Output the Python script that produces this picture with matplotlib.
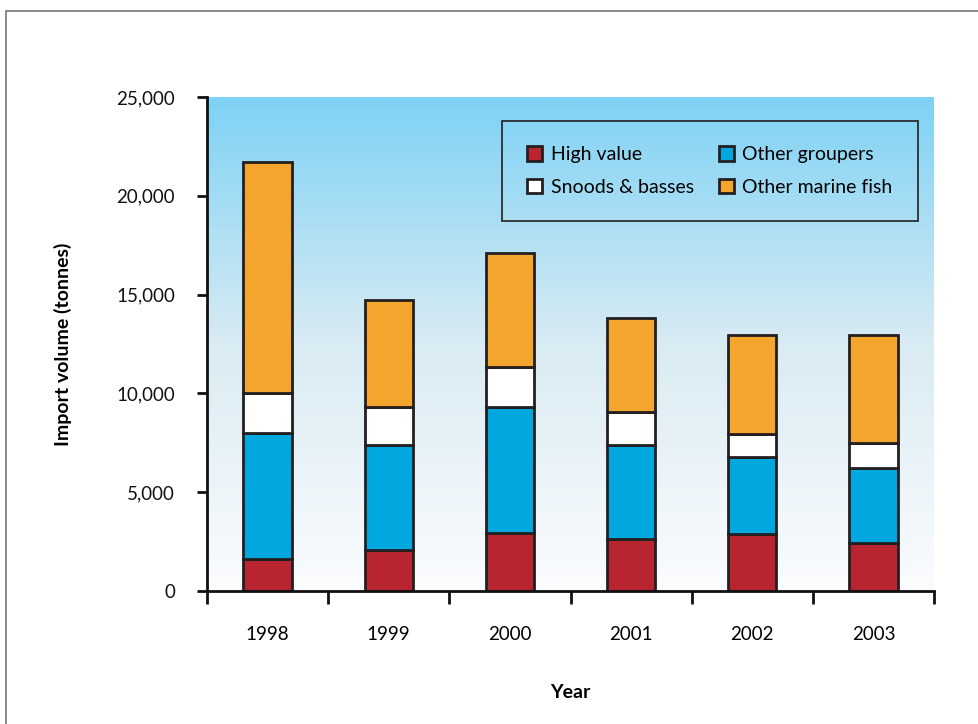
import matplotlib
matplotlib.use("Agg")
import matplotlib.pyplot as plt
import numpy as np
from matplotlib.patches import Patch
from matplotlib.lines import Line2D
from matplotlib.colors import LinearSegmentedColormap

# Import volumes (tonnes) by year and fish group
years = ["1998", "1999", "2000", "2001", "2002", "2003"]
high_value = [1600, 2100, 2950, 2650, 2900, 2450]
other_groupers = [6400, 5300, 6350, 4750, 3900, 3750]
snoods_basses = [2000, 1900, 2050, 1650, 1150, 1300]
other_marine = [11700, 5450, 5750, 4750, 5000, 5450]

series = [
    ("High value", high_value, "#b8242f"),
    ("Other groupers", other_groupers, "#00a8df"),
    ("Snoods & basses", snoods_basses, "#ffffff"),
    ("Other marine fish", other_marine, "#f3a52e"),
]

plt.rcParams["font.family"] = ["Lato", "DejaVu Sans"]
edge = "#231f20"

fig = plt.figure(figsize=(9.79, 7.24), dpi=100)
ax = fig.add_axes([207 / 979, 133 / 724, 727 / 979, 494 / 724])

# sky-blue to white backdrop
grad = np.linspace(1, 0, 256).reshape(-1, 1)
cmap = LinearSegmentedColormap.from_list("sky", ["#fbfcfe", "#d9ebf3", "#7ed2f5"])
ax.imshow(grad, cmap=cmap, aspect="auto", extent=[-0.5, 5.5, 0, 25000],
          origin="upper", zorder=0)

x = np.arange(len(years))
bottom = np.zeros(len(years))
handles = {}
for name, vals, col in series:
    ax.bar(x, vals, width=0.4, bottom=bottom, color=col, edgecolor=edge,
           linewidth=2, zorder=2)
    bottom += np.array(vals)
    handles[name] = Patch(facecolor=col, edgecolor=edge, linewidth=2)

ax.set_xlim(-0.5, 5.5)
ax.set_ylim(0, 25000)

for s in ["top", "right"]:
    ax.spines[s].set_visible(False)
for s in ["left", "bottom"]:
    ax.spines[s].set_linewidth(2)
    ax.spines[s].set_color("#111111")
    ax.spines[s].set_zorder(3)

ax.set_yticks(np.arange(0, 25001, 5000))
ax.set_yticklabels([f"{v:,}" for v in range(0, 25001, 5000)])
ax.tick_params(axis="y", direction="out", length=7, width=2, labelsize=13.5,
               pad=16, colors="#111111")

# ticks on category boundaries, labels at bar centres
ax.set_xticks(np.arange(-0.5, 6, 1.0))
ax.set_xticks(x, minor=True)
ax.set_xticklabels([])
ax.set_xticklabels(years, minor=True)
ax.tick_params(axis="x", which="major", direction="out", length=9, width=2,
               colors="#111111")
ax.tick_params(axis="x", which="minor", length=0, labelsize=13.5, pad=25)

ax.set_ylabel("Import volume (tonnes)", fontsize=14, fontweight="bold",
              labelpad=32)
ax.set_xlabel("Year", fontsize=14, fontweight="bold", labelpad=30)

order = ["High value", "Snoods & basses", "Other groupers", "Other marine fish"]
leg = ax.legend([handles[n] for n in order], order, ncol=2, loc="upper right",
                bbox_to_anchor=(0.978, 0.9514), frameon=True, fancybox=False,
                fontsize=14, handlelength=0.75, handleheight=0.75,
                handletextpad=0.45, columnspacing=1.3, borderpad=1.3,
                labelspacing=0.8, borderaxespad=0, framealpha=1,
                facecolor="none", edgecolor=edge)
leg.get_frame().set_linewidth(1.2)

# outer frame line on left and top
fig.add_artist(Line2D([6 / 979, 6 / 979, 1.0], [0.0, 713 / 724, 713 / 724],
                      transform=fig.transFigure, color="#777777", linewidth=1.2))

fig.savefig("out.png", dpi=100)
